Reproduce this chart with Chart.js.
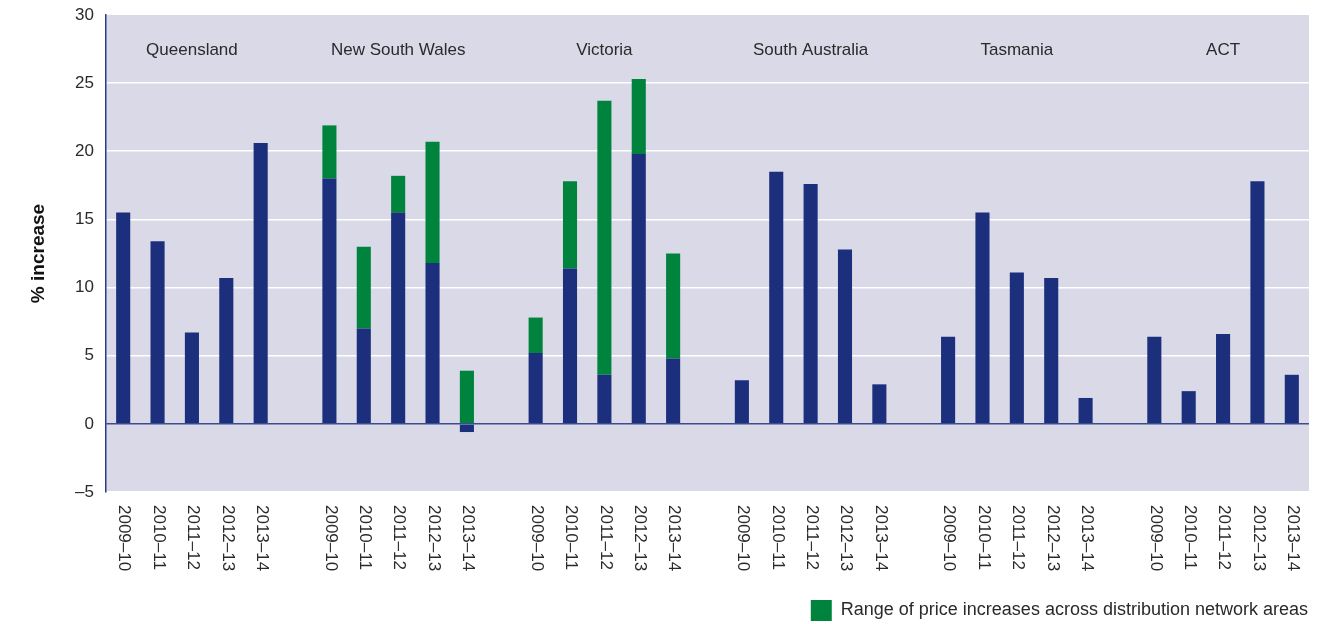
<!DOCTYPE html>
<html>
<head>
<meta charset="utf-8">
<script src="https://cdn.jsdelivr.net/npm/chart.js@4/dist/chart.umd.min.js"></script>
<style>
html,body{margin:0;padding:0;background:#fff;}
#wrap{width:1340px;height:624px;position:relative;}
</style>
</head>
<body>
<div id="wrap"><canvas id="c" width="1340" height="624"></canvas></div>
<script>
const regions = ['Queensland', 'New South Wales', 'Victoria', 'South Australia', 'Tasmania', 'ACT'];
const years = ['2009–10', '2010–11', '2011–12', '2012–13', '2013–14'];
// Base (weighted) increase, %
const qldBase = [15.5, 13.4, 6.7, 10.7, 20.6];
const nswBase = [18.0, 7.0, 15.5, 11.8, -0.6];
const vicBase = [5.2, 11.4, 3.6, 19.8, 4.8];
const saBase  = [3.2, 18.5, 17.6, 12.8, 2.9];
const tasBase = [6.4, 15.5, 11.1, 10.7, 1.9];
const actBase = [6.4, 2.4, 6.6, 17.8, 3.6];
// Top of range across distribution network areas, % (null = no range)
const qldTop = [null, null, null, null, null];
const nswTop = [21.9, 13.0, 18.2, 20.7, 3.9];
const vicTop = [7.8, 17.8, 23.7, 25.3, 12.5];
const saTop  = [null, null, null, null, null];
const tasTop = [null, null, null, null, null];
const actTop = [null, null, null, null, null];
const yTicks = [-5, 0, 5, 10, 15, 20, 25, 30];
const legendText = 'Range of price increases across distribution network areas';

const bases = [qldBase, nswBase, vicBase, saBase, tasBase, actBase];
const tops = [qldTop, nswTop, vicTop, saTop, tasTop, actTop];

const labels = [], blue = [], green = [], groupMid = [];
regions.forEach((r, gi) => {
  years.forEach((y, yi) => {
    if (yi === 2) groupMid.push(labels.length);
    labels.push(y);
    const b = bases[gi][yi], t = tops[gi][yi];
    blue.push(b);
    green.push(t == null ? null : +(t - Math.max(b, 0)).toFixed(2));
  });
  if (gi < regions.length - 1) { labels.push(''); blue.push(null); green.push(null); }
});

const NAVY = '#1c2f7c', GREEN = '#00843d', BG = '#dad9e8', TXT = '#2a2a2a';
const FONT = "'Liberation Sans', Arial, sans-serif";

const deco = {
  id: 'deco',
  beforeDraw(chart) {
    const {ctx, chartArea: a} = chart;
    ctx.save();
    ctx.fillStyle = BG;
    ctx.fillRect(a.left - 1, a.top, a.right - a.left + 1, a.bottom - a.top);
    ctx.restore();
  },
  afterDraw(chart) {
    const {ctx, chartArea: a, scales: {x, y}} = chart;
    ctx.save();
    ctx.fillStyle = TXT;
    ctx.font = '17px ' + FONT;
    // rotated category labels (clockwise)
    labels.forEach((l, i) => {
      if (!l) return;
      const px = x.getPixelForValue(i);
      ctx.save();
      ctx.translate(px + 1, a.bottom + 13);
      ctx.rotate(Math.PI / 2);
      ctx.textAlign = 'left';
      ctx.textBaseline = 'middle';
      ctx.fillText(l, 0, 0);
      ctx.restore();
    });
    // group names
    ctx.textAlign = 'center';
    ctx.textBaseline = 'middle';
    regions.forEach((r, gi) => {
      ctx.fillText(r, x.getPixelForValue(groupMid[gi]), y.getPixelForValue(27.4));
    });
    ctx.restore();
  }
};

new Chart(document.getElementById('c'), {
  type: 'bar',
  data: {
    labels: labels,
    datasets: [
      {label: 'Increase', data: blue, backgroundColor: NAVY, barPercentage: 0.41, categoryPercentage: 1},
      {label: legendText, data: green, backgroundColor: GREEN, barPercentage: 0.41, categoryPercentage: 1}
    ]
  },
  options: {
    responsive: false,
    animation: false,
    layout: {padding: {top: 15, right: 31, left: 2, bottom: -7}},
    plugins: {
      tooltip: {enabled: false},
      legend: {
        position: 'bottom',
        align: 'end',
        labels: {
          filter: (item) => item.datasetIndex === 1,
          boxWidth: 21, boxHeight: 21, padding: 1,
          color: TXT, font: {size: 18, family: FONT}
        }
      }
    },
    scales: {
      x: {
        stacked: true,
        grid: {display: false},
        border: {display: false},
        ticks: {display: false},
        afterFit(s) { s.height = 107; }
      },
      y: {
        stacked: true,
        min: -5, max: 30,
        afterBuildTicks(s) { s.ticks = yTicks.map(v => ({value: v})); },
        grid: {
          color: (c) => c.tick && c.tick.value === 0 ? '#3d4c91' : (c.tick && c.tick.value === 30 ? 'rgba(0,0,0,0)' : '#ffffff'),
          lineWidth: 1.6,
          drawTicks: false
        },
        border: {display: true, color: '#2b3b8a', width: 1.5},
        ticks: {
          color: TXT, padding: 12,
          font: {size: 17, family: FONT},
          callback: (v) => v < 0 ? '–' + Math.abs(v) : String(v)
        },
        title: {display: true, text: '% increase', color: '#111', font: {size: 19, weight: 'bold', family: FONT}, padding: {top: 25, bottom: 0}},
        afterFit(s) { s.width = 104; s.paddingTop = 0; s.paddingBottom = 0; }
      }
    }
  },
  plugins: [deco]
});
</script>
</body>
</html>
